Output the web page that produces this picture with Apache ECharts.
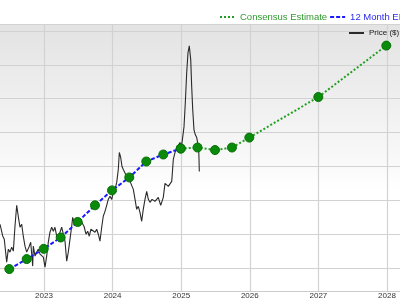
<!DOCTYPE html>
<html>
<head>
<meta charset="utf-8">
<script src="https://cdn.jsdelivr.net/npm/echarts@6/dist/echarts.min.js"></script>
<style>html,body{margin:0;padding:0;background:#fff}#c{width:400px;height:300px}</style>
</head>
<body>
<div id="c"></div>
<script>
// x in decimal years, y in chart units (gridlines at 1..8)
const yearTicks = [2023, 2024, 2025, 2026, 2027, 2028];
const xMin = 2022.3586, xMax = 2028.1895;
const yMin = 0.3235, yMax = 8.2059;
const yGrid = [1, 2, 3, 4, 5, 6, 7, 8, 8.2059];

const epsDates = [2022.494, 2022.748, 2022.996, 2023.243, 2023.491, 2023.743, 2023.991, 2024.243, 2024.491, 2024.739, 2024.993];
const epsValues = [0.971, 1.265, 1.568, 1.903, 2.362, 2.853, 3.294, 3.676, 4.147, 4.353, 4.529];

const estDates = [2024.993, 2025.238, 2025.493, 2025.740, 2025.993, 2026.999, 2027.990];
const estValues = [4.529, 4.559, 4.485, 4.559, 4.853, 6.050, 7.568];

const priceDates = [
  2022.359, 2022.398, 2022.421, 2022.456, 2022.480, 2022.504, 2022.529, 2022.553, 2022.577, 2022.602,
  2022.625, 2022.650, 2022.675, 2022.698, 2022.723, 2022.748, 2022.786, 2022.806, 2022.821, 2022.835,
  2022.844, 2022.869, 2022.894, 2022.917, 2022.942, 2022.966, 2022.990, 2023.015, 2023.039, 2023.063,
  2023.087, 2023.112, 2023.136, 2023.160, 2023.185, 2023.208, 2023.233, 2023.258, 2023.281, 2023.306,
  2023.331, 2023.354, 2023.379, 2023.404, 2023.418, 2023.437, 2023.466, 2023.500, 2023.525, 2023.550,
  2023.583, 2023.612, 2023.637, 2023.660, 2023.685, 2023.710, 2023.743, 2023.768, 2023.792, 2023.816,
  2023.841, 2023.864, 2023.889, 2023.914, 2023.937, 2023.962, 2023.987, 2024.010, 2024.035, 2024.060,
  2024.083, 2024.098, 2024.118, 2024.137, 2024.156, 2024.181, 2024.206, 2024.229, 2024.254, 2024.278,
  2024.302, 2024.327, 2024.351, 2024.375, 2024.399, 2024.424, 2024.447, 2024.472, 2024.497, 2024.521,
  2024.545, 2024.575, 2024.618, 2024.666, 2024.701, 2024.739, 2024.764, 2024.812, 2024.862, 2024.885,
  2024.909, 2024.934, 2024.958, 2024.982, 2025.007, 2025.041, 2025.060, 2025.080, 2025.099, 2025.118,
  2025.139, 2025.153, 2025.168, 2025.186, 2025.205, 2025.226, 2025.240, 2025.255, 2025.259, 2025.264
];
const priceValues = [
  2.294, 1.950, 1.853, 1.176, 1.559, 1.471, 1.618, 1.500, 2.235, 2.853,
  2.529, 2.206, 2.294, 1.941, 1.647, 1.471, 1.647, 1.765, 1.412, 1.059,
  1.647, 1.353, 1.471, 1.559, 1.412, 1.471, 1.324, 1.029, 1.353, 1.765,
  2.059, 2.206, 2.088, 2.206, 1.941, 1.853, 2.059, 2.206, 2.235, 1.794,
  1.206, 1.471, 1.853, 2.235, 2.500, 2.353, 2.382, 2.294, 2.235, 2.353,
  2.235, 2.000, 2.088, 1.941, 2.147, 2.088, 2.059, 2.147, 2.000, 1.794,
  2.206, 2.529, 2.676, 2.853, 3.029, 3.118, 3.029, 3.235, 3.324, 3.529,
  3.912, 4.412, 4.265, 4.000, 3.912, 3.971, 3.706, 3.765, 3.559, 3.618,
  3.324, 3.029, 2.735, 2.824, 2.647, 2.382, 2.735, 3.029, 3.265, 3.029,
  2.941, 3.029, 2.971, 3.088, 2.853, 3.088, 3.500, 3.412, 3.559, 4.206,
  4.412, 4.500, 4.618, 4.706, 4.618, 5.176, 5.882, 6.765, 7.353, 7.559,
  7.147, 6.353, 5.676, 5.088, 4.941, 4.853, 4.706, 4.500, 4.265, 3.853
];

const zip = (a, b) => a.map((v, i) => [v, b[i]]);
const FONT = '"Liberation Sans", Arial, sans-serif';
const chart = echarts.init(document.getElementById('c'), null, {renderer: 'canvas'});
chart.setOption({
  animation: false,
  grid: {
    left: 0, right: 0, top: 24, bottom: 8,
    show: true, borderWidth: 0,
    backgroundColor: new echarts.graphic.LinearGradient(0, 0, 0, 1, [
      {offset: 0, color: '#e3e3e3'},
      {offset: 0.5, color: '#f8f8f8'},
      {offset: 0.62, color: '#ffffff'},
      {offset: 1, color: '#ffffff'}
    ])
  },
  legend: [
    {
      left: 219, top: 12, width: 600, orient: 'horizontal',
      itemWidth: 15, itemHeight: 10, itemGap: 2, padding: 0,
      itemStyle: {color: 'transparent', borderColor: 'transparent', borderWidth: 0},
      data: [
        {name: 'Consensus Estimate', textStyle: {color: '#2e9a2e'}},
        {name: '12 Month EPS', textStyle: {color: '#2a2aee'}}
      ],
      textStyle: {fontSize: 9.5, fontFamily: FONT}
    },
    {
      left: 348, top: 29, width: 200,
      itemWidth: 15, itemHeight: 8, padding: 0,
      itemStyle: {color: 'transparent', borderColor: 'transparent', borderWidth: 0},
      data: ['Price ($)'],
      textStyle: {fontSize: 8, fontFamily: FONT, color: '#222'}
    }
  ],
  xAxis: {
    type: 'value', min: xMin, max: xMax,
    axisLine: {show: true, lineStyle: {color: '#cccccc', width: 1}},
    axisTick: {show: false, customValues: yearTicks},
    axisLabel: {customValues: yearTicks, formatter: v => String(Math.round(v)), fontSize: 8, fontFamily: FONT, color: '#333', margin: 1},
    splitLine: {show: true, lineStyle: {color: '#d2d2d2', width: 1.2}}
  },
  yAxis: {
    type: 'value', min: yMin, max: yMax,
    axisLine: {show: false},
    axisTick: {show: false, customValues: yGrid},
    axisLabel: {show: false},
    splitLine: {show: true, lineStyle: {color: '#d2d2d2', width: 1.2}}
  },
  series: [
    {
      name: 'Price ($)', type: 'line', data: zip(priceDates, priceValues), z: 1,
      symbol: 'none', lineStyle: {color: '#2b2b2b', width: 1.1}, color: '#555'
    },
    {
      name: '12 Month EPS', type: 'line', data: zip(epsDates, epsValues), z: 3,
      symbol: 'circle', symbolSize: 9,
      color: '#1a1aff',
      lineStyle: {color: '#1a1aff', width: 2, type: [4, 2]},
      itemStyle: {color: '#0a8a0a', borderColor: '#067006', borderWidth: 1}
    },
    {
      name: 'Consensus Estimate', type: 'line', data: zip(estDates, estValues), z: 2,
      symbol: 'circle', symbolSize: 9,
      color: '#22a022',
      lineStyle: {color: '#22a022', width: 2, type: [2, 2]},
      itemStyle: {color: '#0a8a0a', borderColor: '#067006', borderWidth: 1}
    }
  ]
});
</script>
</body>
</html>
